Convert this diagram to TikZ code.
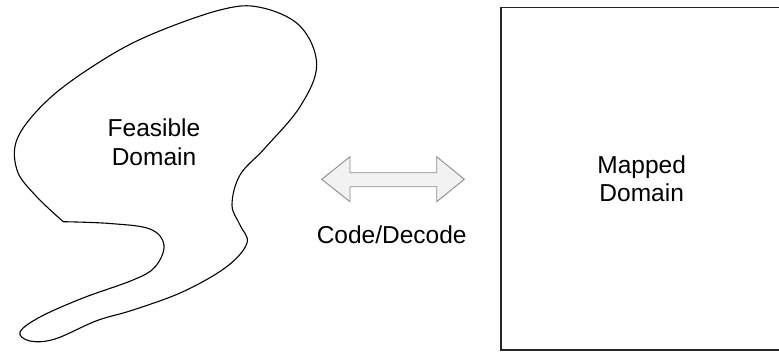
\documentclass[tikz,border=0pt]{standalone}
\usepackage{fontspec}
\setmainfont{Liberation Sans}
\usepackage{tikz}

\begin{document}
\begin{tikzpicture}[x=1pt, y=-1pt,
  domaintext/.style={align=center, font=\fontsize{24.5}{28.5}\selectfont}]
\useasboundingbox (0,0) rectangle (779,351);
\clip (0,0) rectangle (779,351);
%Feasible domain
\draw[line width=1.1pt, line join=round] plot[smooth, tension=0.6] coordinates {
  (63.3,221.7) (110,223.5) (150,229) (164,245) (155,267) (133,280) (83,298)
  (40,317) (20,332) (30,341) (55,339) (96.7,320.7) (133,310) (183,291.7)
  (226.7,266.7) (247,243) (240,225) (232,205) (240,175) (265,148)
  (300,106.7) (316.7,65) (300,26) (260,7.3) (220,10) (150,35) (100,61.7)
  (50,98) (18,137) (17,170) (36,196) (63.3,221.7)};
\node[domaintext] (feasible) at (154,142) {Feasible\\Domain};
%Code/Decode arrow
\filldraw[fill=black!5, draw=black!45, line width=0.9pt, line join=miter]
  (321.7,179.3) -- (350,156.7) -- (350,172.7) -- (436.7,172.7) -- (436.7,156.7)
  -- (464.3,179.3) -- (436.7,201.7) -- (436.7,186.7) -- (350,186.7) -- (350,201.7) -- cycle;
\node[font=\fontsize{24.5}{28.5}\selectfont, anchor=base] (codec) at (391.7,243.3) {Code/Decode};
%Mapped domain
\draw[line width=1.4pt, draw=black!85] (500.8,7.5) rectangle (790,349.8);
\node[domaintext] (mapped) at (641.7,178.5) {Mapped\\Domain};
\end{tikzpicture}
\end{document}
